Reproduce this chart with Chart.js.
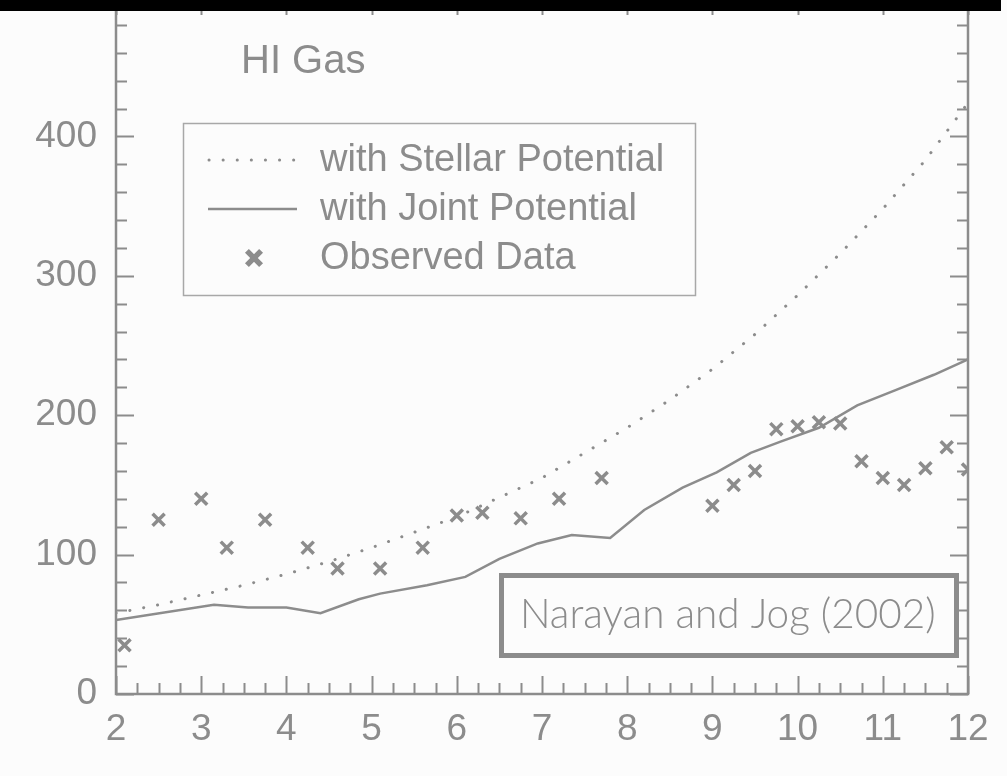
<!DOCTYPE html>
<html>
<head>
<meta charset="utf-8">
<title>HI Gas</title>
<script src="https://cdn.jsdelivr.net/npm/chart.js@4/dist/chart.umd.min.js"></script>
<style>
  html, body { margin: 0; padding: 0; background: #fcfcfc; overflow: hidden; }
  #wrap { position: absolute; left: 0; top: -3px; width: 1007px; height: 779px; }
</style>
</head>
<body>
<div id="wrap"><canvas id="c" width="1007" height="779"></canvas></div>
<script>
// Model curve computed with the stellar potential only
const stellarX = [2, 2.5, 3, 3.5, 4, 4.5, 5, 5.5, 6, 6.5, 7, 7.5, 8, 8.5, 9, 9.5, 10, 10.5, 11, 11.5, 12];
const stellarY = [58, 64, 71, 78, 86, 95, 105, 116, 127, 141, 155, 173, 191, 211, 233, 258, 286, 316, 348, 383, 424];

// Model curve computed with the joint (stars + dark matter) potential
const jointX = [2.0, 3.15, 3.55, 4.0, 4.4, 4.85, 5.1, 5.65, 6.1, 6.5, 6.95, 7.35, 7.8, 8.2, 8.65, 9.05, 9.45, 9.8, 10.25, 10.7, 11.15, 11.6, 12.0];
const jointY = [53, 64, 62, 62, 58, 68, 72, 78, 84, 97, 108, 114, 112, 132, 148, 159, 173, 181, 191, 207, 218, 229, 240];

// Observed HI thickness values
const obsX = [2.1, 2.5, 3.0, 3.3, 3.75, 4.25, 4.6, 5.1, 5.6, 6.0, 6.3, 6.75, 7.2, 7.7, 9.0, 9.25, 9.5, 9.75, 10.0, 10.25, 10.5, 10.75, 11.0, 11.25, 11.5, 11.75, 12.0];
const obsY = [35, 125, 140, 105, 125, 105, 90, 90, 105, 128, 130, 126, 140, 155, 135, 150, 160, 190, 192, 195, 194, 167, 155, 150, 162, 177, 161];

const seriesLabels = ['with Stellar Potential', 'with Joint Potential', 'Observed Data'];
const titleText = 'HI Gas';
const sourceText = 'Narayan and Jog (2002)';

const xMin = 2, xMax = 12, xMinorStep = 0.25;
const yMin = 0, yMax = 500, yMajorStep = 100, yMinorStep = 20;

const INK = '#8c8c8c';
const FONT = '"Liberation Sans", Arial, Helvetica, sans-serif';

// plot rectangle on the canvas
const PLOT = { left: 116, top: 0, right: 968, bottom: 697 };

const toPoints = (xs, ys) => xs.map((x, i) => ({ x: x, y: ys[i] }));

// Pin the plot rectangle so the frame lines up with the page edges
const pinArea = {
  id: 'pinArea',
  afterLayout(chart) {
    const area = chart.chartArea;
    Object.assign(area, PLOT);
    area.width = PLOT.right - PLOT.left;
    area.height = PLOT.bottom - PLOT.top;
    const xs = chart.scales.x, ys = chart.scales.y;
    xs.left = PLOT.left; xs.right = PLOT.right; xs.width = area.width; xs.top = PLOT.bottom;
    ys.top = PLOT.top; ys.bottom = PLOT.bottom; ys.height = area.height; ys.right = PLOT.left;
    xs.configure();
    ys.configure();
  }
};

// Frame, inward ticks, title, legend, source box and the dark band at the top
const decorations = {
  id: 'decorations',
  afterDraw(chart) {
    const ctx = chart.ctx;
    const a = chart.chartArea;
    const xs = chart.scales.x, ys = chart.scales.y;
    ctx.save();
    ctx.strokeStyle = INK;
    ctx.lineCap = 'butt';

    // ticks pointing into the plot on all four sides
    ctx.lineWidth = 2;
    ctx.beginPath();
    const nx = Math.round((xMax - xMin) / xMinorStep);
    for (let i = 0; i <= nx; i++) {
      const v = xMin + i * xMinorStep;
      const px = Math.round(xs.getPixelForValue(v)) + 0.5;
      const major = Math.abs(v - Math.round(v)) < 1e-6;
      const len = major ? 18 : 11;
      ctx.moveTo(px, a.bottom); ctx.lineTo(px, a.bottom - len);
      if (major) { ctx.moveTo(px, a.top); ctx.lineTo(px, a.top + 18); }
    }
    const ny = Math.round((yMax - yMin) / yMinorStep);
    for (let i = 0; i <= ny; i++) {
      const v = yMin + i * yMinorStep;
      const py = Math.round(ys.getPixelForValue(v)) + 0.5;
      const major = v % yMajorStep === 0;
      const len = major ? 18 : 11;
      ctx.moveTo(a.left, py); ctx.lineTo(a.left + len, py);
      ctx.moveTo(a.right, py); ctx.lineTo(a.right - len, py);
    }
    ctx.stroke();

    // plot frame
    ctx.lineWidth = 2.5;
    ctx.strokeRect(a.left, a.top, a.right - a.left, a.bottom - a.top);

    // the rest is laid out in page coordinates (canvas sits 3px above the page top)
    ctx.translate(0, 3);

    // title
    ctx.fillStyle = INK;
    ctx.font = '40px ' + FONT;
    ctx.textBaseline = 'middle';
    ctx.textAlign = 'left';
    ctx.fillText(titleText, 241, 62);

    // legend
    const ds = chart.data.datasets;
    ctx.fillStyle = '#fcfcfc';
    ctx.fillRect(183, 123, 513, 173);
    ctx.lineWidth = 1.5;
    ctx.strokeStyle = '#a8a8a8';
    ctx.strokeRect(183.5, 123.5, 512, 172);

    const rows = [160, 209, 258];
    // dotted sample
    ctx.strokeStyle = ds[0].borderColor;
    ctx.lineWidth = ds[0].borderWidth;
    ctx.lineCap = ds[0].borderCapStyle;
    ctx.setLineDash(ds[0].borderDash);
    ctx.beginPath(); ctx.moveTo(209, rows[0]); ctx.lineTo(297, rows[0]); ctx.stroke();
    // solid sample
    ctx.setLineDash([]);
    ctx.lineCap = 'butt';
    ctx.strokeStyle = ds[1].borderColor;
    ctx.lineWidth = ds[1].borderWidth;
    ctx.beginPath(); ctx.moveTo(208, rows[1]); ctx.lineTo(297, rows[1]); ctx.stroke();
    // marker sample
    ctx.strokeStyle = ds[2].borderColor;
    ctx.fillStyle = ds[2].backgroundColor;
    ctx.lineWidth = 5.5;
    Chart.helpers.drawPoint(ctx, {
      pointStyle: ds[2].pointStyle, radius: 10, borderWidth: 5.5, rotation: 0
    }, 254, rows[2]);

    ctx.fillStyle = INK;
    ctx.font = '38px ' + FONT;
    ctx.textBaseline = 'middle';
    for (let i = 0; i < 3; i++) ctx.fillText(ds[i].label, 320, rows[i] + 1);

    // source box
    ctx.fillStyle = '#fcfcfc';
    ctx.fillRect(501, 577, 456, 78);
    ctx.strokeStyle = INK;
    ctx.lineWidth = 5;
    ctx.strokeRect(501.5, 575.5, 455, 80);
    ctx.fillStyle = INK;
    ctx.font = '300 40.5px Lato, "Open Sans", sans-serif';
    ctx.textBaseline = 'alphabetic';
    ctx.fillText(sourceText, 520, 628);

    // dark band across the top edge
    ctx.fillStyle = '#000000';
    ctx.fillRect(0, -3, 1001, 14);
    ctx.restore();
  }
};

const chart = new Chart(document.getElementById('c'), {
  type: 'scatter',
  data: {
    datasets: [
      {
        label: seriesLabels[0],
        data: toPoints(stellarX, stellarY),
        showLine: true,
        pointRadius: 0,
        borderColor: INK,
        borderWidth: 3,
        borderDash: [0.1, 14],
        borderCapStyle: 'round',
        tension: 0
      },
      {
        label: seriesLabels[1],
        data: toPoints(jointX, jointY),
        showLine: true,
        pointRadius: 0,
        borderColor: INK,
        borderWidth: 2.5,
        tension: 0
      },
      {
        label: seriesLabels[2],
        data: toPoints(obsX, obsY),
        showLine: false,
        pointStyle: 'crossRot',
        pointRadius: 8.5,
        pointBorderWidth: 3.5,
        borderColor: INK,
        backgroundColor: INK
      }
    ]
  },
  options: {
    responsive: false,
    animation: false,
    events: [],
    layout: { padding: { left: 0, right: 39, top: 0, bottom: 0 } },
    plugins: { legend: { display: false }, tooltip: { enabled: false } },
    scales: {
      x: {
        type: 'linear', min: xMin, max: xMax,
        grid: { display: false, drawTicks: false },
        border: { display: false },
        ticks: { stepSize: 1, color: INK, font: { family: FONT, size: 37 }, padding: 14, maxRotation: 0 },
        afterFit(s) { s.height = 82; s.paddingLeft = 0; s.paddingRight = 0; }
      },
      y: {
        min: yMin, max: yMax,
        grid: { display: false, drawTicks: false },
        border: { display: false },
        ticks: {
          stepSize: yMajorStep, color: INK, font: { family: FONT, size: 37 }, padding: 19,
          callback: v => (v === yMax ? '' : v)
        },
        afterFit(s) { s.width = 116; s.paddingTop = 0; s.paddingBottom = 0; }
      }
    }
  },
  plugins: [pinArea, decorations]
});
</script>
</body>
</html>
